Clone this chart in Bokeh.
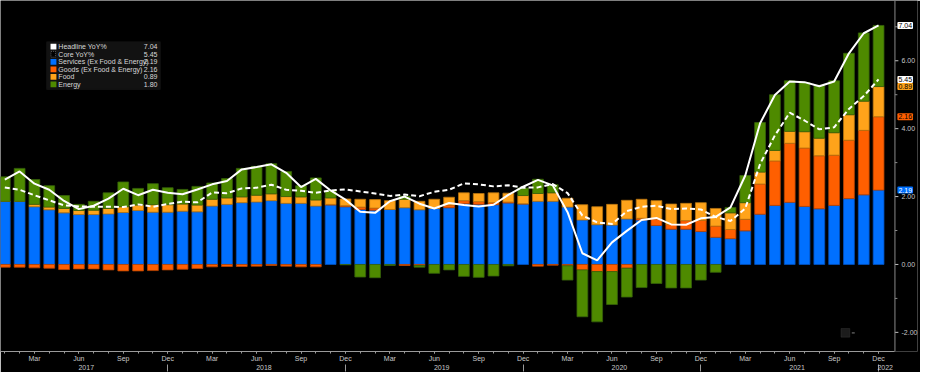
from bokeh.plotting import figure
from bokeh.models import (ColumnDataSource, Range1d, LinearAxis, FixedTicker,
                          NumeralTickFormatter, Label, BoxAnnotation, Span)
from bokeh.embed import file_html
from bokeh.resources import INLINE

# ---------------- data (Jan 2017 .. Dec 2021, monthly) ----------------
months = list(range(60))
month_names = ["Jan", "Feb", "Mar", "Apr", "May", "Jun",
               "Jul", "Aug", "Sep", "Oct", "Nov", "Dec"]
years = ["2017", "2018", "2019", "2020", "2021", "2022"]

headline = [2.50, 2.74, 2.38, 2.20, 1.87, 1.63, 1.73, 1.94, 2.23, 2.04, 2.20, 2.11,
            2.07, 2.21, 2.36, 2.46, 2.80, 2.87, 2.95, 2.70, 2.28, 2.52, 2.18, 1.91,
            1.55, 1.52, 1.86, 2.00, 1.79, 1.65, 1.81, 1.75, 1.71, 1.76, 2.05, 2.29,
            2.49, 2.33, 1.54, 0.33, 0.12, 0.65, 0.99, 1.31, 1.37, 1.18, 1.17, 1.36,
            1.40, 1.68, 2.62, 4.16, 4.99, 5.39, 5.37, 5.25, 5.39, 6.22, 6.81, 7.04]

core = [2.27, 2.20, 2.04, 1.89, 1.74, 1.71, 1.70, 1.70, 1.69, 1.77, 1.70, 1.78,
        1.85, 1.83, 2.12, 2.10, 2.24, 2.26, 2.35, 2.20, 2.17, 2.11, 2.18, 2.21,
        2.15, 2.09, 2.02, 2.06, 2.01, 2.14, 2.20, 2.39, 2.36, 2.30, 2.33, 2.26,
        2.27, 2.37, 2.10, 1.44, 1.24, 1.19, 1.57, 1.70, 1.73, 1.63, 1.65, 1.62,
        1.40, 1.28, 1.65, 2.96, 3.80, 4.47, 4.24, 3.98, 4.04, 4.58, 4.96, 5.45]

services = [1.86, 1.86, 1.70, 1.61, 1.52, 1.47, 1.47, 1.49, 1.53, 1.59, 1.54, 1.54,
            1.57, 1.55, 1.72, 1.77, 1.82, 1.84, 1.88, 1.80, 1.80, 1.72, 1.75, 1.70,
            1.62, 1.60, 1.62, 1.67, 1.61, 1.65, 1.67, 1.79, 1.77, 1.76, 1.81, 1.78,
            1.86, 1.86, 1.69, 1.31, 1.17, 1.16, 1.34, 1.31, 1.15, 1.04, 1.04, 0.97,
            0.80, 0.76, 0.99, 1.48, 1.74, 1.83, 1.71, 1.64, 1.74, 1.94, 2.05, 2.19]

goods = [-0.08, -0.08, -0.10, -0.11, -0.15, -0.13, -0.13, -0.16, -0.19, -0.19, -0.18, -0.16,
         -0.14, -0.12, -0.07, -0.06, -0.06, -0.05, -0.03, -0.05, -0.07, -0.07, 0.02, 0.03,
         0.07, 0.06, 0.00, -0.03, -0.03, 0.00, 0.08, 0.09, 0.08, 0.06, 0.03, 0.01,
         -0.05, -0.02, -0.04, -0.16, -0.21, -0.21, -0.11, 0.05, 0.19, 0.14, 0.25, 0.33,
         0.33, 0.27, 0.34, 0.89, 1.31, 1.74, 1.72, 1.56, 1.48, 1.72, 1.90, 2.16]

food = [0.00, 0.00, 0.07, 0.08, 0.13, 0.12, 0.13, 0.16, 0.17, 0.16, 0.22, 0.22,
        0.21, 0.20, 0.20, 0.19, 0.17, 0.20, 0.20, 0.20, 0.19, 0.18, 0.19, 0.20,
        0.23, 0.25, 0.26, 0.25, 0.25, 0.27, 0.23, 0.23, 0.24, 0.29, 0.26, 0.24,
        0.23, 0.25, 0.26, 0.45, 0.53, 0.61, 0.55, 0.56, 0.54, 0.60, 0.51, 0.52,
        0.52, 0.49, 0.49, 0.35, 0.31, 0.35, 0.48, 0.52, 0.66, 0.75, 0.86, 0.89]

energy = [0.72, 0.97, 0.73, 0.63, 0.38, 0.18, 0.26, 0.46, 0.73, 0.49, 0.62, 0.50,
          0.43, 0.55, 0.48, 0.57, 0.84, 0.85, 0.89, 0.74, 0.33, 0.65, 0.22, -0.01,
          -0.37, -0.39, -0.03, 0.09, -0.05, -0.26, -0.16, -0.35, -0.38, -0.34, -0.04, 0.22,
          0.42, 0.24, -0.42, -1.38, -1.48, -0.97, -0.85, -0.68, -0.56, -0.69, -0.69, -0.46,
          -0.23, 0.16, 0.80, 1.46, 1.64, 1.49, 1.45, 1.56, 1.53, 1.81, 2.01, 1.80]

y_ticks = [-2, 0, 2, 4, 6]
y_minor = [-1, 1, 3, 5, 7]

series_names = ["Services (Ex Food & Energy)", "Goods (Ex Food & Energy)", "Food", "Energy"]
series_vals = [services, goods, food, energy]
series_colors = ["#0070ff", "#ff5f00", "#ffa31a", "#4e8a00"]
series_edges = ["#0052c0", "#b84400", "#b87510", "#36620a"]
legend_values = ["7.04", "5.45", "2.19", "2.16", "0.89", "1.80"]

# ---------------- reference-pixel -> data helpers (layout only) ----------------
def dx(px):
    return (px - 4.4) / 15.1

def dy(py):
    return (276.0 - py) / 35.5

FONT = "Liberation Sans"

p = figure(width=920, height=372, output_backend="svg", toolbar_location=None,
           x_range=Range1d(dx(0), dx(935)), y_range=Range1d(dy(367), dy(0)),
           y_axis_location="right", min_border=0)
p.background_fill_color = "black"
p.border_fill_color = "black"
p.outline_line_color = None
p.xgrid.visible = False
p.ygrid.visible = False

# ---------------- stacked bars (positive up, negative down) ----------------
pos = [0.0] * len(months)
neg = [0.0] * len(months)
for name, vals, col, edge in zip(series_names, series_vals, series_colors, series_edges):
    bottoms, tops = [], []
    for i, v in enumerate(vals):
        if v >= 0:
            bottoms.append(pos[i]); tops.append(pos[i] + v); pos[i] += v
        else:
            tops.append(neg[i]); bottoms.append(neg[i] + v); neg[i] += v
    src = ColumnDataSource(dict(x=months, bottom=bottoms, top=tops))
    p.vbar(x="x", bottom="bottom", top="top", width=0.73, source=src,
           fill_color=col, line_color=edge, line_width=0.8)

p.line(months, core, line_color="white", line_width=2, line_dash="5 3")
p.line(months, headline, line_color="white", line_width=2)

# ---------------- y axis (value scale on the right) ----------------
yax = p.yaxis[0]
yax.ticker = FixedTicker(ticks=y_ticks, minor_ticks=y_minor)
yax.formatter = NumeralTickFormatter(format="0.00")
yax.axis_line_color = None
yax.major_tick_line_color = None
yax.minor_tick_line_color = None
yax.major_tick_out = 0
yax.major_tick_in = 0
yax.minor_tick_out = 0
yax.minor_tick_in = 0
yax.major_label_text_color = "#c8c8c8"
yax.major_label_text_font = FONT
yax.major_label_text_font_size = "7px"
yax.major_label_standoff = -16

# vertical scale line and its tick marks, placed left of the value-tag strip
p.add_layout(Span(location=dx(912), dimension="height", line_color="#8a8a8a", line_width=1))
p.segment(x0=[dx(912)] * len(y_ticks), x1=[dx(915.5)] * len(y_ticks), y0=y_ticks, y1=y_ticks,
          line_color="#c0c0c0", line_width=1)
p.segment(x0=[dx(912)] * len(y_minor), x1=[dx(914.5)] * len(y_minor), y0=y_minor, y1=y_minor,
          line_color="#8a8a8a", line_width=1)

# ---------------- x axes: months, then years ----------------
month_ticks = [m for m in months if m % 3 == 2]
xax = p.xaxis[0]
xax.bounds = (dx(0), dx(912))
xax.ticker = FixedTicker(ticks=month_ticks, minor_ticks=months)
xax.major_label_overrides = {m: month_names[m % 12] for m in month_ticks}
xax.axis_line_color = "#9a9a9a"
xax.major_tick_line_color = "#9a9a9a"
xax.minor_tick_line_color = "#9a9a9a"
xax.major_tick_out = 2
xax.major_tick_in = 0
xax.minor_tick_out = 2
xax.minor_tick_in = 0
xax.major_label_text_color = "#c8c8c8"
xax.major_label_text_font = FONT
xax.major_label_text_font_size = "7px"
xax.major_label_standoff = 1

year_ticks = [5.5, 17.5, 29.5, 41.5, 53.5, 59.45]
year_seps = [11, 23, 35, 47, 59]
yr_ax = LinearAxis(ticker=FixedTicker(ticks=year_ticks, minor_ticks=year_seps))
yr_ax.major_label_overrides = {t: y for t, y in zip(year_ticks, years)}
yr_ax.axis_line_color = None
yr_ax.major_tick_line_color = None
yr_ax.minor_tick_line_color = "#9a9a9a"
yr_ax.minor_tick_out = 7
yr_ax.minor_tick_in = 0
yr_ax.major_tick_out = 0
yr_ax.major_tick_in = 0
yr_ax.major_label_text_color = "#c8c8c8"
yr_ax.major_label_text_font = FONT
yr_ax.major_label_text_font_size = "7px"
yr_ax.major_label_standoff = -7
p.add_layout(yr_ax, "below")

# ---------------- legend (built by hand) ----------------
p.add_layout(BoxAnnotation(left=dx(47), right=dx(163), top=dy(43), bottom=dy(93),
                           fill_color="#121212", fill_alpha=1.0,
                           line_color="#262626", line_width=1))
legend_labels = ["Headline YoY%", "Core YoY%"] + series_names
swatch_colors = ["white", "black"] + series_colors
row_y = [48.3, 56.2, 64.1, 72.0, 79.9, 87.8]
for lab, val, col, ry in zip(legend_labels, legend_values, swatch_colors, row_y):
    if lab == "Core YoY%":
        p.add_layout(BoxAnnotation(left=dx(51.5), right=dx(56), top=dy(ry - 3), bottom=dy(ry + 3),
                                   fill_color="black", fill_alpha=1.0,
                                   line_color="white", line_width=1, line_dash="1 1"))
    else:
        p.add_layout(BoxAnnotation(left=dx(51), right=dx(57), top=dy(ry - 3), bottom=dy(ry + 3),
                                   fill_color=col, fill_alpha=1.0, line_color=None))
    p.add_layout(Label(x=dx(59), y=dy(ry), text=lab, text_align="left", text_baseline="middle",
                       text_color="#d8d8d8", text_font=FONT, text_font_size="7px"))
    p.add_layout(Label(x=dx(160), y=dy(ry), text=val, text_align="right", text_baseline="middle",
                       text_color="#d8d8d8", text_font=FONT, text_font_size="7px"))

# ---------------- right-hand value tags ----------------
last = len(months) - 1
tag_specs = [
    (headline[last], legend_values[0], "white", "black"),
    (core[last], legend_values[1], "white", "black"),
    (services[last] + goods[last] + food[last], legend_values[4], series_colors[2], "black"),
    (services[last] + goods[last], legend_values[3], series_colors[1], "black"),
    (services[last], legend_values[2], series_colors[0], "white"),
]
for yv, txt, bg, fg in tag_specs:
    p.add_layout(Label(x=dx(914.5), y=yv, text=txt, text_align="left", text_baseline="middle",
                       text_color=fg, text_font=FONT, text_font_size="7px",
                       background_fill_color=bg, background_fill_alpha=1.0,
                       padding=1, border_radius=1))

# small chart-menu icon near the bottom right
p.add_layout(BoxAnnotation(left=dx(857), right=dx(866), top=dy(343), bottom=dy(352),
                           fill_color="#1c1c1c", fill_alpha=1.0, line_color="#4a4a4a", line_width=1))
p.add_layout(BoxAnnotation(left=dx(868), right=dx(871), top=dy(346.5), bottom=dy(348.5),
                           fill_color="#4a4a4a", fill_alpha=1.0, line_color=None))

open("out.html", "w").write(file_html(p, INLINE))
